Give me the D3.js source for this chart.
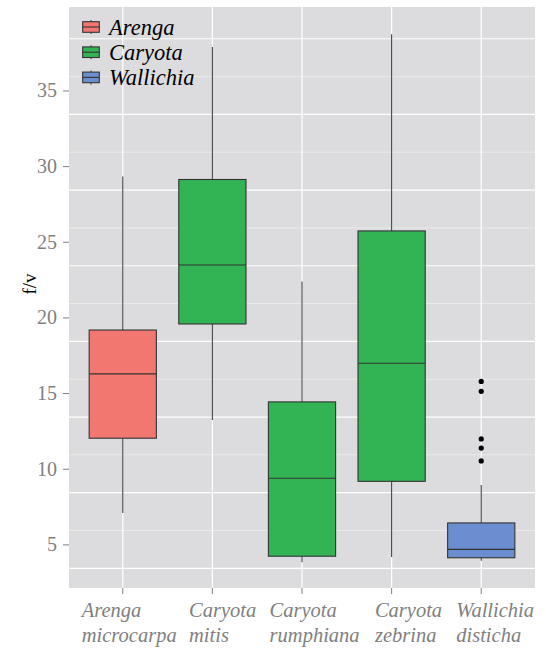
<!DOCTYPE html>
<html>
<head>
<meta charset="utf-8">
<script src="https://cdn.jsdelivr.net/npm/d3@7"></script>
<style>
  body { margin: 0; background: #fff; }
</style>
</head>
<body>
<div id="chart-container"></div>
<script>
/**************************************************
 * Data
 **************************************************/
const species   = ["Arenga microcarpa", "Caryota mitis", "Caryota rumphiana", "Caryota zebrina", "Wallichia disticha"];
const genus     = ["Arenga", "Caryota", "Caryota", "Caryota", "Wallichia"];
const whiskLow  = [7.1, 13.25, 3.85, 4.2, 3.95];
const q1        = [12.05, 19.6, 4.25, 9.2, 4.15];
const medians   = [16.3, 23.5, 9.4, 17.0, 4.7];
const q3        = [19.2, 29.15, 14.45, 25.75, 6.45];
const whiskHigh = [29.35, 37.9, 22.4, 38.75, 8.95];
const outliers  = [[], [], [], [], [15.8, 15.15, 12.0, 11.4, 10.55]];

const genera    = ["Arenga", "Caryota", "Wallichia"];
const genusFill = ["#F27770", "#33B454", "#6A8ECF"];
const yTicks    = [5, 10, 15, 20, 25, 30, 35];

/**************************************************
 * Layout
 **************************************************/
const width = 546, height = 650;
const panel = { left: 69, right: 535, top: 7, bottom: 588 };
const serif = "'Liberation Serif', 'Times New Roman', serif";
// how far left of its tick each x label block starts (as in the figure)
const labelShift = [41, 23.4, 32.4, 16.7, 25];

const svg = d3.select("#chart-container")
  .append("svg")
  .attr("width", width)
  .attr("height", height)
  .attr("font-family", serif);

const y = d3.scaleLinear()
  .domain([2.15, 40.55])
  .range([panel.bottom, panel.top]);

const x = d3.scalePoint()
  .domain(species)
  .range([panel.left, panel.right])
  .padding(0.6);

const color = d3.scaleOrdinal().domain(genera).range(genusFill);
const boxW = x.step() * 0.75;

// panel background
svg.append("rect")
  .attr("x", panel.left)
  .attr("y", panel.top)
  .attr("width", panel.right - panel.left)
  .attr("height", panel.bottom - panel.top)
  .attr("fill", "#DCDCDE");

// grid (the horizontal grid in the figure sits shifted from the ticks)
const gridShift = -1.55;
const grid = svg.append("g");
d3.range(0, 40, 5).forEach(t => {
  const v = t + 2.5 + gridShift;
  if (v > y.domain()[0] && v < y.domain()[1]) {
    grid.append("line")
      .attr("x1", panel.left).attr("x2", panel.right)
      .attr("y1", y(v)).attr("y2", y(v))
      .attr("stroke", "#EEEEEF").attr("stroke-width", 0.8);
  }
});
d3.range(5, 45, 5).forEach(t => {
  const v = t + gridShift;
  if (v > y.domain()[0] && v < y.domain()[1]) {
    grid.append("line")
      .attr("x1", panel.left).attr("x2", panel.right)
      .attr("y1", y(v)).attr("y2", y(v))
      .attr("stroke", "#FFFFFF").attr("stroke-width", 1.2);
  }
});
species.forEach(s => {
  grid.append("line")
    .attr("x1", x(s)).attr("x2", x(s))
    .attr("y1", panel.top).attr("y2", panel.bottom)
    .attr("stroke", "#FFFFFF").attr("stroke-width", 1.2);
});

/**************************************************
 * Boxes
 **************************************************/
const boxes = svg.append("g");
species.forEach((s, i) => {
  const cx = x(s);
  const g = boxes.append("g");
  g.append("line")
    .attr("x1", cx).attr("x2", cx)
    .attr("y1", y(whiskHigh[i])).attr("y2", y(q3[i]))
    .attr("stroke", "#444").attr("stroke-width", 1.1);
  g.append("line")
    .attr("x1", cx).attr("x2", cx)
    .attr("y1", y(q1[i])).attr("y2", y(whiskLow[i]))
    .attr("stroke", "#444").attr("stroke-width", 1.1);
  g.append("rect")
    .attr("x", cx - boxW / 2)
    .attr("y", y(q3[i]))
    .attr("width", boxW)
    .attr("height", y(q1[i]) - y(q3[i]))
    .attr("fill", color(genus[i]))
    .attr("stroke", "#333").attr("stroke-width", 1.1);
  g.append("line")
    .attr("x1", cx - boxW / 2).attr("x2", cx + boxW / 2)
    .attr("y1", y(medians[i])).attr("y2", y(medians[i]))
    .attr("stroke", "#333").attr("stroke-width", 1.1);
  outliers[i].forEach(v => {
    g.append("circle")
      .attr("cx", cx).attr("cy", y(v))
      .attr("r", 2.6)
      .attr("fill", "#000");
  });
});

/**************************************************
 * Axes
 **************************************************/
const yAxis = svg.append("g");
yTicks.forEach(t => {
  yAxis.append("line")
    .attr("x1", panel.left - 6).attr("x2", panel.left)
    .attr("y1", y(t)).attr("y2", y(t))
    .attr("stroke", "#7F7F7F").attr("stroke-width", 1);
  yAxis.append("text")
    .attr("x", 57)
    .attr("y", y(t) + 6.5)
    .attr("text-anchor", "end")
    .attr("font-size", "20px")
    .attr("fill", "#7F7F7F")
    .text(t);
});

svg.append("text")
  .attr("transform", `translate(36, 284) rotate(-90)`)
  .attr("text-anchor", "middle")
  .attr("font-size", "19px")
  .attr("fill", "#000")
  .text("f/v");

const xAxis = svg.append("g");
species.forEach((s, i) => {
  xAxis.append("line")
    .attr("x1", x(s)).attr("x2", x(s))
    .attr("y1", panel.bottom).attr("y2", panel.bottom + 6)
    .attr("stroke", "#7F7F7F").attr("stroke-width", 1);
  const t = xAxis.append("text")
    .attr("font-size", "20.5px")
    .attr("font-style", "italic")
    .attr("fill", "#7F7F7F");
  s.split(" ").forEach((w, k) => {
    t.append("tspan")
      .attr("x", x(s) - labelShift[i])
      .attr("y", 617 + k * 25)
      .text(w);
  });
});

/**************************************************
 * Legend
 **************************************************/
const legend = svg.append("g");
genera.forEach((gname, i) => {
  const cy = 27 + i * 25.2;
  const kx = 91;
  legend.append("line")
    .attr("x1", kx).attr("x2", kx)
    .attr("y1", cy - 7).attr("y2", cy + 7)
    .attr("stroke", "#444").attr("stroke-width", 1.1);
  legend.append("rect")
    .attr("x", kx - 8.3).attr("y", cy - 5.3)
    .attr("width", 16.6).attr("height", 10.6)
    .attr("fill", color(gname))
    .attr("stroke", "#333").attr("stroke-width", 1.1);
  legend.append("line")
    .attr("x1", kx - 8.3).attr("x2", kx + 8.3)
    .attr("y1", cy).attr("y2", cy)
    .attr("stroke", "#333").attr("stroke-width", 1.1);
  legend.append("text")
    .attr("x", 109)
    .attr("y", cy + 7.5)
    .attr("font-size", "22.5px")
    .attr("font-style", "italic")
    .attr("fill", "#000")
    .text(gname);
});
</script>
</body>
</html>
